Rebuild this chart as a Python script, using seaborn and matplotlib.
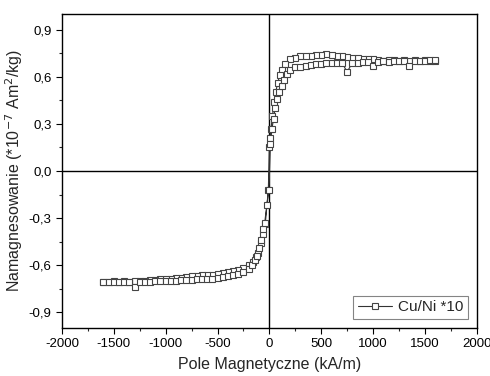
import numpy as np
import pandas as pd
import matplotlib
matplotlib.use('Agg')
import matplotlib.pyplot as plt
import seaborn as sns
from matplotlib.ticker import FixedLocator, FuncFormatter

# descending branch (from +1600 down to -1600)
field_down = [1600, 1550, 1500, 1450, 1400, 1350, 1300, 1250, 1200, 1150, 1100, 1050,
              1000, 950, 900, 850, 800, 750, 700, 650, 600, 550, 500, 450, 400, 350,
              300, 250, 200, 150, 120, 100, 80, 60, 45, 30, 15, 5, 0, -10, -40, -60,
              -85, -110, -130, -160, -200, -250, -300, -350, -400, -450, -500, -550,
              -600, -650, -700, -750, -800, -850, -900, -950, -1000, -1050, -1100,
              -1150, -1200, -1250, -1300, -1350, -1400, -1450, -1500, -1550, -1600]
mag_down = [0.70, 0.70, 0.705, 0.70, 0.705, 0.70, 0.705, 0.70, 0.705, 0.705, 0.70, 0.705,
            0.71, 0.71, 0.715, 0.72, 0.72, 0.725, 0.73, 0.735, 0.74, 0.745, 0.74, 0.74,
            0.735, 0.735, 0.73, 0.72, 0.71, 0.68, 0.64, 0.61, 0.56, 0.50, 0.44, 0.35,
            0.27, 0.21, 0.15, -0.12, -0.34, -0.40, -0.46, -0.52, -0.55, -0.58, -0.60,
            -0.62, -0.63, -0.64, -0.645, -0.65, -0.655, -0.66, -0.66, -0.665, -0.67,
            -0.67, -0.675, -0.68, -0.68, -0.685, -0.69, -0.69, -0.695, -0.695, -0.70,
            -0.70, -0.70, -0.705, -0.70, -0.705, -0.70, -0.705, -0.705]

# ascending branch (from -1600 up to +1600)
field_up = [-1600, -1550, -1500, -1450, -1400, -1350, -1300, -1250, -1200, -1150, -1100,
            -1050, -1000, -950, -900, -850, -800, -750, -700, -650, -600, -550, -500,
            -450, -400, -350, -300, -250, -200, -170, -140, -120, -100, -80, -60, -45,
            -25, -5, 10, 25, 40, 55, 75, 95, 120, 140, 170, 200, 250, 300, 350, 400,
            450, 500, 550, 600, 650, 700, 750, 800, 850, 900, 950, 1000, 1050, 1100,
            1150, 1200, 1250, 1300, 1350, 1400, 1450, 1500, 1550, 1600]
mag_up = [-0.71, -0.705, -0.71, -0.705, -0.71, -0.71, -0.74, -0.71, -0.705, -0.705, -0.70,
          -0.70, -0.70, -0.70, -0.70, -0.695, -0.695, -0.695, -0.69, -0.69, -0.69, -0.685,
          -0.68, -0.675, -0.67, -0.665, -0.655, -0.645, -0.625, -0.60, -0.57, -0.54,
          -0.49, -0.44, -0.37, -0.33, -0.22, -0.12, 0.17, 0.27, 0.33, 0.40, 0.46, 0.50,
          0.54, 0.58, 0.62, 0.645, 0.66, 0.665, 0.67, 0.675, 0.68, 0.68, 0.685, 0.685,
          0.69, 0.69, 0.63, 0.69, 0.69, 0.695, 0.695, 0.67, 0.695, 0.70, 0.695, 0.70,
          0.70, 0.70, 0.67, 0.70, 0.70, 0.70, 0.705, 0.705]

x_ticks = [-2000, -1500, -1000, -500, 0, 500, 1000, 1500, 2000]
y_ticks = [-0.9, -0.6, -0.3, 0.0, 0.3, 0.6, 0.9]

df = pd.DataFrame({'field': field_down + field_up,
                   'mag': mag_down + mag_up,
                   'series': 'Cu/Ni *10'})

sns.set_style('ticks')
plt.rcParams['font.family'] = ['Liberation Sans', 'DejaVu Sans']
plt.rcParams['axes.unicode_minus'] = False

fig = plt.figure(figsize=(4.9, 3.76), dpi=100)
ax = fig.add_axes([0.1265, 0.1277, 0.8465, 0.8353])

ax.axhline(0, color='black', lw=1.0, zorder=1)
ax.axvline(0, color='black', lw=1.0, zorder=1)

sns.lineplot(data=df, x='field', y='mag', hue='series', sort=False, estimator=None,
             palette=['#333333'], lw=0.8, marker='s', markersize=5,
             markerfacecolor='white', markeredgecolor='#444444', markeredgewidth=0.8,
             ax=ax, zorder=3)

ax.set_xlim(-2000, 2000)
ax.set_ylim(-1.0, 1.0)
ax.xaxis.set_major_locator(FixedLocator(x_ticks))
ax.yaxis.set_major_locator(FixedLocator(y_ticks))
ax.xaxis.set_minor_locator(FixedLocator([-1750, -1250, -750, -250, 250, 750, 1250, 1750]))
ax.yaxis.set_minor_locator(FixedLocator([-0.75, -0.45, -0.15, 0.15, 0.45, 0.75]))
ax.yaxis.set_major_formatter(FuncFormatter(lambda v, p: f'{v:.1f}'.replace('.', ',')))
ax.tick_params(which='major', direction='out', length=4, width=0.8, labelsize=9.5, colors='black')
ax.tick_params(which='minor', direction='out', length=2.5, width=0.8)
for s in ax.spines.values():
    s.set_linewidth(1.0)
    s.set_color('black')

ax.set_xlabel('Pole Magnetyczne (kA/m)', fontsize=11.5, labelpad=5)
ax.set_ylabel('Namagnesowanie (*10$^{-7}$ Am$^{2}$/kg)', fontsize=11.5, labelpad=3)

leg = ax.legend(loc='lower right', fontsize=11, frameon=True, fancybox=False,
                edgecolor='#666666', handlelength=2.2, handletextpad=0.4,
                borderpad=0.3, borderaxespad=0.6)
leg.get_frame().set_linewidth(0.8)

fig.savefig('out.png', dpi=100)
